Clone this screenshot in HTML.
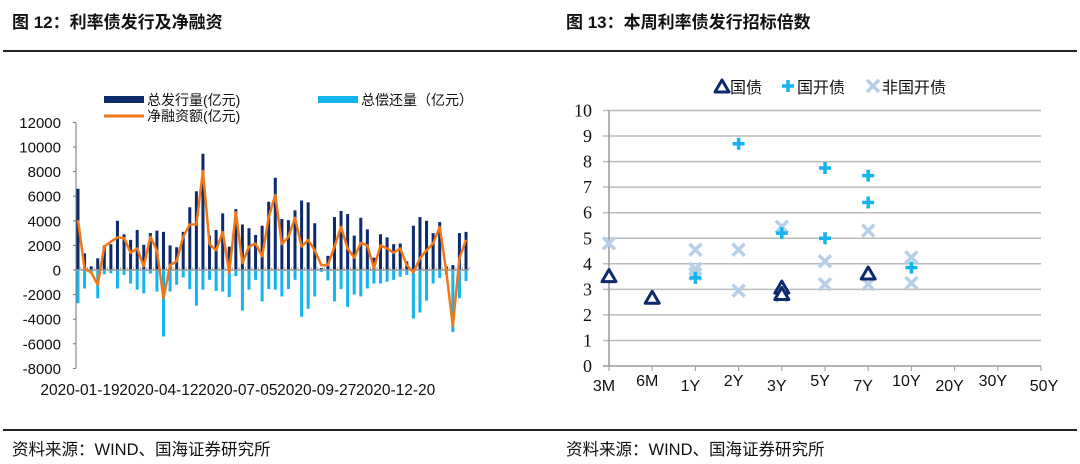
<!DOCTYPE html>
<html><head><meta charset="utf-8"><style>
html,body{margin:0;padding:0;background:#fff;}
body{width:1080px;height:464px;position:relative;overflow:hidden;font-family:"Liberation Sans","Noto Sans CJK SC",sans-serif;}
.t{position:absolute;font-weight:bold;font-size:17px;color:#111;top:8px;}
.f{position:absolute;font-size:16.5px;color:#111;top:436px;}
.hr{position:absolute;left:3px;width:1074px;height:2px;background:#222;}
svg{position:absolute;left:0;top:0;}
</style></head><body>
<div class="t" style="left:12px">图 12：利率债发行及净融资</div>
<div class="t" style="left:566px">图 13：本周利率债发行招标倍数</div>
<div class="hr" style="top:50px"></div>
<div class="hr" style="top:429px"></div>
<div class="f" style="left:12px">资料来源：WIND、国海证券研究所</div>
<div class="f" style="left:566px">资料来源：WIND、国海证券研究所</div>
<svg id="s" width="1080" height="464"></svg>
<script>
const issuance=[6600,1350,300,950,2000,2100,4000,2900,2450,3250,2050,3000,3200,3100,2000,1850,3100,5100,6400,9450,2800,3250,4600,1900,4950,3700,3400,2850,3600,5550,7500,4150,4050,4850,5650,5500,3800,150,1150,4300,4800,4550,2800,4250,3300,1000,2900,2650,2100,2150,700,3600,4300,4000,3000,3900,300,400,3000,3100];
const repayment=[-2700,-1500,-300,-2300,-350,-270,-1500,-400,-1100,-1600,-1900,-300,-1750,-5400,-1750,-1200,-600,-1550,-2900,-1600,-800,-1700,-1750,-2200,-500,-3300,-1600,-800,-2550,-1550,-1600,-2150,-1550,-800,-3800,-3150,-2150,-150,-850,-2550,-1550,-3000,-2000,-2150,-1500,-1100,-1100,-950,-800,-550,-400,-3950,-3450,-2500,-1100,-650,-400,-5050,-2300,-900];
const netFinancing=[4050,100,-200,-1200,1900,2300,2650,2600,1400,1750,300,2700,1600,-2300,400,700,2700,3700,3700,8050,2100,1600,3100,-200,4700,550,1900,2150,1100,4300,6100,2100,2700,4250,1900,2450,1600,400,400,1900,3500,1750,1000,2200,2000,150,2000,1750,1400,1750,400,-200,950,1600,2150,3500,-100,-4550,950,2450];
const leftTicks=[12000,10000,8000,6000,4000,2000,0,-2000,-4000,-6000,-8000];
const dateLabels=[[0,"2020-01-19"],[12,"2020-04-12"],[24,"2020-07-05"],[36,"2020-09-27"],[48,"2020-12-20"]];
const rightCats=["3M","6M","1Y","2Y","3Y","5Y","7Y","10Y","20Y","30Y","50Y"];
const rightTicks=[0,1,2,3,4,5,6,7,8,9,10];
const govBond=[[0,3.5],[1,2.65],[4,3.05],[4,2.8],[6,3.6]];
const cdbBond=[[2,3.45],[3,8.7],[4,5.2],[5,7.75],[5,5.0],[6,7.45],[6,6.4],[7,3.85]];
const otherBond=[[0,4.8],[2,4.55],[2,3.8],[2,3.6],[3,4.55],[3,2.95],[4,5.45],[4,2.75],[5,4.1],[5,3.2],[6,5.3],[6,3.2],[7,4.25],[7,3.25]];

const NS="http://www.w3.org/2000/svg";
const svg=document.getElementById('s');
function mk(tag,attrs,parent,name){const e=document.createElementNS(NS,tag);for(const k in attrs)e.setAttribute(k,attrs[k]);


(parent||svg).appendChild(e);return e;}
function txt(x,y,s,attrs,name){const e=mk('text',Object.assign({x:x,y:y},attrs),svg,name);e.textContent=s;return e;}

// LEFT CHART
const ly=v=>270-v*(246/20000);
const lx=i=>78+i*(388/(issuance.length-1));
mk('line',{x1:76,y1:ly(12000),x2:76,y2:ly(-8000),stroke:'#777','stroke-width':1},svg,'left-y-axis');
leftTicks.forEach(v=>{
  mk('line',{x1:73,y1:ly(v),x2:76,y2:ly(v),stroke:'#777'},svg,'left-y-tick');
  txt(61,ly(v)+5.5,String(v),{'text-anchor':'end','font-size':15,fill:'#111'},'left-y-tick-label');
});
issuance.forEach((v,i)=>mk('rect',{x:lx(i)-1.5,y:ly(v),width:3,height:ly(0)-ly(v),fill:'#0d2a6b'},svg,'issuance-bar'));
repayment.forEach((v,i)=>mk('rect',{x:lx(i)-1.5,y:ly(0),width:3,height:ly(v)-ly(0),fill:'#14b4f0'},svg,'repayment-bar'));
mk('line',{x1:76,y1:ly(0),x2:469,y2:ly(0),stroke:'#999','stroke-width':1.5},svg,'left-zero-line');
for(let i=0;i<issuance.length;i++)mk('line',{x1:lx(i)+3,y1:ly(0)-3,x2:lx(i)+3,y2:ly(0),stroke:'#aaa'},svg,'left-x-tick');
mk('polyline',{points:netFinancing.map((v,i)=>lx(i)+','+ly(v)).join(' '),fill:'none',stroke:'#f07818','stroke-width':2.5,'stroke-linejoin':'round'},svg,'net-financing-line');
dateLabels.forEach(d=>txt(lx(d[0])+2,395,d[1],{'text-anchor':'middle','font-size':15.5,fill:'#111'},'left-x-tick-label'));
mk('rect',{x:104,y:96,width:40,height:7,fill:'#0d2a6b'},svg,'legend-issuance-swatch');
txt(147,105,'总发行量(亿元)',{'font-size':14,fill:'#111'},'legend-issuance');
mk('rect',{x:318,y:96,width:40,height:7,fill:'#14b4f0'},svg,'legend-repayment-swatch');
txt(361,105,'总偿还量（亿元）',{'font-size':14,fill:'#111'},'legend-repayment');
mk('line',{x1:104,y1:116,x2:144,y2:116,stroke:'#f07818','stroke-width':3},svg,'legend-net-swatch');
txt(147,121,'净融资额(亿元)',{'font-size':14,fill:'#111'},'legend-net');

// RIGHT CHART
const ry=v=>366-v*25.55;
const rx=i=>609+i*43.2;
rightTicks.forEach(v=>{
  mk('line',{x1:603,y1:ry(v),x2:1041,y2:ry(v),stroke:v===0?'#999':'#bbb','stroke-width':1.5},svg,'right-grid-line');
  txt(592,ry(v)+6,String(v),{'text-anchor':'end','font-size':18,'font-family':'Liberation Serif, serif',fill:'#111'},'right-y-tick-label');
});
mk('line',{x1:609,y1:ry(10),x2:609,y2:ry(0),stroke:'#999','stroke-width':1.5},svg,'right-y-axis');
rightCats.forEach((c,i)=>{
  mk('line',{x1:rx(i),y1:ry(0),x2:rx(i),y2:ry(0)+5,stroke:'#999'},svg,'right-x-tick');
  txt(rx(i)-5+(i===10?8:0),i%2?386:391,c,{'text-anchor':'middle','font-size':16,fill:'#111'},'right-x-tick-label');
});
function cross(x,y,name){const g=mk('g',{},svg,name);
  mk('path',{d:`M${x-6},${y-6}L${x+6},${y+6}M${x-6},${y+6}L${x+6},${y-6}`,stroke:'#b8cfe8','stroke-width':3.5},g,'x-mark');}
function plus(x,y,name){const g=mk('g',{},svg,name);
  mk('path',{d:`M${x-6},${y}L${x+6},${y}M${x},${y-6}L${x},${y+6}`,stroke:'#14b4f0','stroke-width':3.5},g,'plus-mark');}
function tri(x,y,name){mk('path',{d:`M${x},${y-7}L${x+7},${y+5}L${x-7},${y+5}Z`,fill:'#fff',stroke:'#0d2a6b','stroke-width':3,'stroke-linejoin':'round'},svg,name);}
otherBond.forEach(p=>cross(rx(p[0]),ry(p[1]),'other-bond-point'));
cdbBond.forEach(p=>plus(rx(p[0]),ry(p[1]),'cdb-bond-point'));
govBond.forEach(p=>tri(rx(p[0]),ry(p[1]),'gov-bond-point'));
tri(722,87,'legend-gov-marker');
txt(730,93,'国债',{'font-size':16,fill:'#111'},'legend-gov');
plus(788,86,'legend-cdb-marker');
txt(797,93,'国开债',{'font-size':16,fill:'#111'},'legend-cdb');
cross(873,86,'legend-other-marker');
txt(882,93,'非国开债',{'font-size':16,fill:'#111'},'legend-other');
</script>
</body></html>
